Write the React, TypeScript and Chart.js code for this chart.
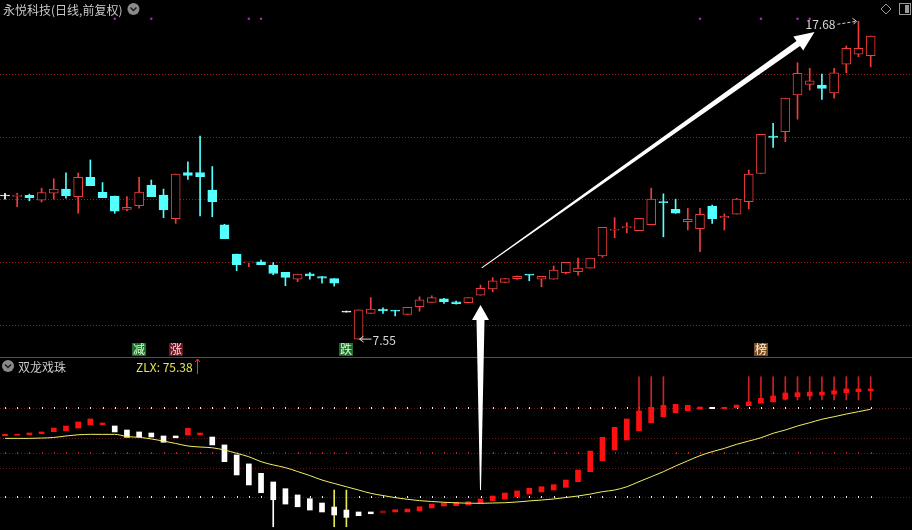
import { useEffect, useRef } from 'react';
import { Chart, registerables } from 'chart.js';

Chart.register(...registerables);

// ---------- price panel (日线, 前复权) ----------
const OPEN = [
  12.11, 12.10, 12.13, 11.98, 12.20, 12.33, 12.09, 12.71, 12.23, 12.11,
  11.68, 11.80, 12.46, 12.14, 11.39, 12.86, 12.86, 12.30, 11.19, 10.26,
  9.98, 10.01, 9.91, 9.68, 9.46, 9.63, 9.54, 9.48, 8.41, 7.55,
  8.37, 8.51, 8.47, 8.34, 8.58, 8.72, 8.83, 8.74, 8.71, 8.95,
  9.15, 9.36, 9.48, 9.60, 9.46, 9.46, 9.67, 9.70, 9.81, 10.20,
  11.02, 11.10, 11.01, 11.20, 11.93, 11.69, 11.29, 11.07, 11.79, 11.42,
  11.53, 11.93, 12.83, 14.02, 14.16, 15.33, 15.67, 15.65, 15.40, 16.31,
  16.63, 16.58,
];
const HIGH = [
  12.20, 12.20, 12.17, 12.36, 12.66, 12.85, 12.84, 13.26, 12.54, 12.11,
  12.09, 12.71, 12.62, 12.33, 12.81, 13.20, 14.02, 13.05, 11.21, 10.26,
  10.00, 10.07, 9.99, 9.68, 9.62, 9.67, 9.54, 9.48, 8.41, 8.48,
  8.87, 8.55, 8.47, 8.56, 8.90, 8.93, 8.85, 8.76, 8.87, 9.27,
  9.51, 9.48, 9.57, 9.60, 9.55, 9.88, 10.00, 10.13, 10.13, 11.11,
  11.42, 11.26, 11.40, 12.36, 12.18, 12.01, 11.72, 11.72, 11.82, 11.54,
  12.04, 12.94, 14.08, 14.43, 15.23, 16.36, 16.18, 16.00, 16.18, 16.89,
  17.68, 17.21,
];
const LOW = [
  12.01, 11.77, 11.96, 11.92, 12.01, 12.04, 11.56, 12.44, 12.06, 11.56,
  11.64, 11.72, 12.09, 11.42, 11.24, 12.64, 11.48, 11.45, 10.75, 9.73,
  9.86, 9.92, 9.60, 9.25, 9.38, 9.46, 9.33, 9.24, 8.41, 7.55,
  8.37, 8.37, 8.29, 8.34, 8.44, 8.72, 8.69, 8.66, 8.71, 8.95,
  9.06, 9.36, 9.45, 9.41, 9.22, 9.46, 9.63, 9.59, 9.81, 10.16,
  10.78, 10.94, 11.01, 11.20, 10.81, 11.56, 11.03, 10.34, 11.24, 11.03,
  11.53, 11.70, 12.83, 13.66, 13.84, 14.56, 15.49, 15.19, 15.23, 16.04,
  16.55, 16.23,
];
const CLOSE = [
  12.11, 12.12, 12.06, 12.22, 12.33, 12.12, 12.71, 12.44, 12.06, 11.63,
  11.75, 12.24, 12.09, 11.67, 12.81, 12.77, 12.73, 11.93, 10.75, 9.92,
  10.00, 9.92, 9.64, 9.52, 9.62, 9.56, 9.49, 9.33, 8.41, 8.48,
  8.51, 8.45, 8.44, 8.56, 8.80, 8.87, 8.74, 8.68, 8.87, 9.17,
  9.41, 9.48, 9.55, 9.59, 9.55, 9.75, 10.00, 9.81, 10.13, 11.11,
  11.05, 11.14, 11.40, 12.01, 11.90, 11.56, 11.37, 11.53, 11.38, 11.46,
  12.01, 12.81, 14.08, 13.98, 15.23, 16.02, 15.78, 15.54, 16.04, 16.82,
  16.82, 17.21,
];
const PRICE_GRID = [8, 10, 12, 14, 16];
const PRICE_MIN = 1.466;
const PRICE_MAX = 18.358;
const PANEL_DIVIDER_PRICE = 6.98;
const MARK_DOT_INDEX = [9, 12, 20, 21, 57, 62, 65, 66];
const MARK_DOT_PRICE = 17.76;
const HIGH_MARK = { index: 70, value: 17.68 };
const LOW_MARK = { index: 29, value: 7.55 };
const BADGES = [
  { index: 11, text: '减', bg: '#1f6e2a', fg: '#d8ffd8' },
  { index: 14, text: '涨', bg: '#6e1522', fg: '#ffd8dc' },
  { index: 28, text: '跌', bg: '#1f6e2a', fg: '#d8ffd8' },
  { index: 62, text: '榜', bg: '#7a4e1e', fg: '#fff0dc' },
];

// ---------- 双龙戏珠 indicator panel ----------
const ZL_TOP = [
  62.3, 62.3, 63.2, 63.9, 66.5, 67.9, 70.6, 72.6, 69.9, 67.9,
  65.2, 63.9, 63.2, 61.2, 61.2, 66.3, 63.2, 60.5, 55.2, 48.5,
  42.5, 36.2, 30.4, 25.9, 21.7, 19.2, 16.3, 13.6, 11.6, 10.3,
  10.3, 11.0, 11.8, 12.3, 13.8, 15.6, 16.3, 16.8, 17.2, 19.0,
  21.0, 23.0, 24.4, 26.2, 27.2, 28.6, 31.7, 38.4, 51.1, 60.3,
  67.0, 72.6, 77.9, 80.4, 81.7, 82.4, 81.7, 80.6, 80.4, 80.4,
  81.9, 84.0, 86.4, 88.0, 90.0, 90.2, 90.6, 90.6, 91.5, 92.7,
  92.7, 92.7,
];
const ZL_BOTTOM = [
  61.4, 61.7, 62.1, 62.7, 64.1, 64.7, 66.5, 68.6, 68.8, 63.9,
  60.3, 60.5, 60.5, 57.0, 60.0, 61.9, 62.1, 55.2, 44.0, 35.1,
  28.4, 23.2, 18.5, 15.6, 13.8, 11.6, 10.3, 8.3, 6.7, 7.8,
  9.1, 9.6, 10.3, 10.3, 11.0, 13.0, 14.3, 14.5, 15.0, 16.1,
  17.9, 19.0, 20.5, 22.3, 23.7, 25.0, 26.8, 30.6, 37.3, 44.6,
  51.8, 58.5, 64.7, 70.1, 74.1, 76.8, 78.1, 79.1, 79.5, 79.5,
  80.1, 81.5, 83.1, 84.0, 85.8, 87.5, 88.0, 88.6, 89.3, 90.2,
  90.9, 91.5,
];
// r = 红, w = 白, d = 暗红
const ZL_KIND =
  'rrrrrrrrrwwwwwwrrwwwwwwwwwwwwwwdrrrrrrrrrrrrrrrrrrrrrrrrrrwrrrrrrrrrrrr';
const ZLX = [
  59.6, 59.6, 59.6, 59.8, 60.2, 61.2, 62.0, 62.3, 62.3, 62.3,
  60.8, 60.3, 59.2, 57.8, 56.2, 54.5, 53.8, 53.3, 51.8, 49.6,
  47.3, 44.0, 41.8, 40.0, 37.4, 34.7, 31.7, 29.4, 27.2, 25.0,
  22.8, 21.3, 19.9, 18.8, 17.9, 17.3, 16.8, 16.4, 16.2, 16.1,
  16.3, 16.5, 17.0, 17.7, 18.3, 19.0, 20.0, 21.0, 22.3, 23.9,
  25.0, 27.2, 30.6, 33.9, 37.3, 41.1, 44.6, 48.0, 50.7, 52.9,
  55.6, 57.8, 60.0, 63.0, 65.2, 67.9, 70.1, 72.4, 74.1, 75.9,
  77.5, 79.1,
];
const SIGNAL_INDEX = [52, 53, 54, 61, 62, 63, 64, 65, 66, 67, 68, 69, 70, 71];
const SIGNAL_BOTTOM = [77.9, 80.4, 81.7, 84.0, 85.3, 85.3, 85.3, 85.3, 85.3, 85.3, 85.3, 85.3, 85.3, 85.3];
const SIGNAL_TOP = 100.9;
const YELLOW_STICK_INDEX = [27, 28];
const YELLOW_STICK = [0.4, 25.0];
const WHITE_STICK = { index: 22, range: [0.4, 18.5] };
const LOWER_GRID_DOTTED = [80, 20];
const LOWER_GRID_RED = [50];
const LOWER_GRID_PLAIN = [60, 40];
const LOWER_MIN = -1.77;
const LOWER_MAX = 353.2;
const ZLX_VALUE = '75.38';

const X_MIN = -0.41;
const X_MAX = 74.39;

const UP = '#f23c3c';
const DOWN = '#54ffff';
const FLAT = '#ffffff';
const FONT = '"Noto Sans CJK SC", "Noto Sans", sans-serif';

const idx = OPEN.map((_, i) => i);
const candleColor = (i: number) =>
  CLOSE[i] > OPEN[i] ? UP : CLOSE[i] < OPEN[i] ? DOWN : FLAT;

function fatArrow(
  ctx: CanvasRenderingContext2D,
  x0: number, y0: number, x1: number, y1: number,
  tailW: number, shaftW: number, headW: number, headL: number,
) {
  const dx = x1 - x0, dy = y1 - y0;
  const len = Math.hypot(dx, dy);
  const ux = dx / len, uy = dy / len;
  const nx = -uy, ny = ux;
  const bx = x1 - ux * headL, by = y1 - uy * headL;
  ctx.beginPath();
  ctx.moveTo(x0 + nx * tailW / 2, y0 + ny * tailW / 2);
  ctx.lineTo(bx + nx * shaftW / 2, by + ny * shaftW / 2);
  ctx.lineTo(bx + nx * headW / 2, by + ny * headW / 2);
  ctx.lineTo(x1, y1);
  ctx.lineTo(bx - nx * headW / 2, by - ny * headW / 2);
  ctx.lineTo(bx - nx * shaftW / 2, by - ny * shaftW / 2);
  ctx.lineTo(x0 - nx * tailW / 2, y0 - ny * tailW / 2);
  ctx.closePath();
  ctx.fill();
}

function chevronCircle(ctx: CanvasRenderingContext2D, cx: number, cy: number, r: number) {
  ctx.fillStyle = '#8a8a8a';
  ctx.beginPath();
  ctx.arc(cx, cy, r, 0, Math.PI * 2);
  ctx.fill();
  ctx.strokeStyle = '#1a1a1a';
  ctx.lineWidth = 1.5;
  ctx.beginPath();
  ctx.moveTo(cx - 3, cy - 1.5);
  ctx.lineTo(cx, cy + 1.5);
  ctx.lineTo(cx + 3, cy - 1.5);
  ctx.stroke();
}

const backgroundPlugin = {
  id: 'bgGrid',
  beforeDraw(chart: any) {
    const { ctx, width, height } = chart;
    ctx.save();
    ctx.fillStyle = '#000';
    ctx.fillRect(0, 0, width, height);
    ctx.restore();
  },
  beforeDatasetsDraw(chart: any) {
    const { ctx, chartArea } = chart;
    const x = chart.scales.x;
    const y = chart.scales.y;
    const y2 = chart.scales.y2;
    ctx.save();
    // upper dotted grid
    ctx.strokeStyle = 'rgba(160,32,32,0.95)';
    ctx.lineWidth = 1;
    ctx.setLineDash([1, 2]);
    for (const p of PRICE_GRID) {
      const py = Math.round(y.getPixelForValue(p)) + 0.5;
      ctx.beginPath();
      ctx.moveTo(chartArea.left, py);
      ctx.lineTo(chartArea.right, py);
      ctx.stroke();
    }
    // lower dotted grid
    ctx.strokeStyle = 'rgba(120,25,25,0.9)';
    for (const v of [...LOWER_GRID_DOTTED, ...LOWER_GRID_RED, ...LOWER_GRID_PLAIN]) {
      const py = Math.round(y2.getPixelForValue(v)) + 0.5;
      ctx.beginPath();
      ctx.moveTo(chartArea.left, py);
      ctx.lineTo(chartArea.right, py);
      ctx.stroke();
    }
    ctx.setLineDash([]);
    for (const v of LOWER_GRID_DOTTED) {
      const py = Math.round(y2.getPixelForValue(v));
      ctx.fillStyle = '#e8e8e8';
      for (const i of idx) ctx.fillRect(Math.round(x.getPixelForValue(i)), py - 1, 1, 2);
    }
    for (const v of LOWER_GRID_RED) {
      const py = Math.round(y2.getPixelForValue(v));
      ctx.fillStyle = '#c02020';
      for (const i of idx) ctx.fillRect(Math.round(x.getPixelForValue(i)), py - 1, 1, 2);
    }
    // panel divider
    const dy = Math.round(y.getPixelForValue(PANEL_DIVIDER_PRICE)) + 0.5;
    ctx.strokeStyle = '#c02222';
    ctx.beginPath();
    ctx.moveTo(chartArea.left, dy);
    ctx.lineTo(chartArea.right, dy);
    ctx.stroke();
    ctx.restore();
  },
  afterDatasetsDraw(chart: any) {
    const { ctx } = chart;
    const x = chart.scales.x;
    const y = chart.scales.y;
    const y2 = chart.scales.y2;
    ctx.save();
    // title
    ctx.font = `12px ${FONT}`;
    ctx.textBaseline = 'middle';
    ctx.fillStyle = '#c8c8c8';
    ctx.textAlign = 'left';
    ctx.fillText('永悦科技(日线,前复权)', 3, 10);
    const tw = ctx.measureText('永悦科技(日线,前复权)').width;
    chevronCircle(ctx, 3 + tw + 11, 9, 6);
    // top right icons
    ctx.strokeStyle = '#9a9a9a';
    ctx.lineWidth = 1;
    ctx.beginPath();
    ctx.moveTo(886, 4); ctx.lineTo(891, 9); ctx.lineTo(886, 14); ctx.lineTo(881, 9); ctx.closePath();
    ctx.stroke();
    ctx.strokeRect(899.5, 3.5, 11, 11);
    ctx.fillStyle = '#9a9a9a';
    ctx.fillRect(905, 5, 4, 8);

    // high / low labels
    ctx.font = `12px ${FONT}`;
    ctx.fillStyle = '#d8d8d8';
    const hx = x.getPixelForValue(HIGH_MARK.index);
    const hy = y.getPixelForValue(HIGH_MARK.value);
    ctx.textAlign = 'right';
    ctx.fillText(HIGH_MARK.value.toFixed(2), hx - 23, hy + 3);
    ctx.strokeStyle = '#d8d8d8';
    ctx.setLineDash([3, 2]);
    ctx.beginPath();
    ctx.moveTo(hx - 21, hy + 3); ctx.lineTo(hx - 2, hy);
    ctx.stroke();
    ctx.setLineDash([]);
    ctx.beginPath();
    ctx.moveTo(hx - 6, hy - 3); ctx.lineTo(hx - 2, hy); ctx.lineTo(hx - 5, hy + 3);
    ctx.stroke();

    const lx = x.getPixelForValue(LOW_MARK.index);
    const ly = y.getPixelForValue(LOW_MARK.value);
    ctx.beginPath();
    ctx.moveTo(lx + 1, ly); ctx.lineTo(lx + 13, ly);
    ctx.moveTo(lx + 5, ly - 3); ctx.lineTo(lx + 1, ly); ctx.lineTo(lx + 5, ly + 3);
    ctx.stroke();
    ctx.textAlign = 'left';
    ctx.fillText(LOW_MARK.value.toFixed(2), lx + 14, ly + 1);

    // badges
    const divY = y.getPixelForValue(PANEL_DIVIDER_PRICE);
    ctx.font = `12px ${FONT}`;
    ctx.textAlign = 'center';
    for (const b of BADGES) {
      const bx = Math.round(x.getPixelForValue(b.index));
      ctx.fillStyle = b.bg;
      ctx.fillRect(bx - 7, divY - 14, 14, 13);
      ctx.fillStyle = b.fg;
      ctx.fillText(b.text, bx, divY - 7.5);
    }

    // lower panel title
    chevronCircle(ctx, 8, 366, 6);
    ctx.font = `12px ${FONT}`;
    ctx.textAlign = 'left';
    ctx.fillStyle = '#c8c8c8';
    ctx.fillText('双龙戏珠', 18, 367);
    ctx.fillStyle = '#e6e650';
    const zt = `ZLX: ${ZLX_VALUE}`;
    ctx.fillText(zt, 136, 367);
    const zw = ctx.measureText(zt).width;
    ctx.strokeStyle = '#ff3030';
    ctx.lineWidth = 1;
    const ax = Math.round(136 + zw + 4) + 0.5;
    ctx.beginPath();
    ctx.moveTo(ax, 359); ctx.lineTo(ax, 374);
    ctx.moveTo(ax - 2.5, 362); ctx.lineTo(ax, 359); ctx.lineTo(ax + 2.5, 362);
    ctx.stroke();

    // big white arrows
    ctx.fillStyle = '#ffffff';
    const ux = x.getPixelForValue(39);
    fatArrow(ctx, ux, y2.getPixelForValue(25.0), ux, y.getPixelForValue(8.64), 1, 8, 17, 15);
    fatArrow(
      ctx,
      x.getPixelForValue(39.1), y.getPixelForValue(9.82),
      x.getPixelForValue(66.4), y.getPixelForValue(17.34),
      1, 6, 17, 20,
    );
    ctx.restore();
  },
};

export default function App() {
  const ref = useRef<HTMLCanvasElement | null>(null);
  useEffect(() => {
    const canvas = ref.current;
    if (!canvas) return;
    const wick = idx.map((i) => ({ x: i, y: [LOW[i], HIGH[i]] }));
    const body = idx.map((i) => ({ x: i, y: [OPEN[i], CLOSE[i]] }));
    const zl = idx.map((i) => ({ x: i, y: [ZL_BOTTOM[i], ZL_TOP[i]] }));
    const zlColor = idx.map((i) =>
      ZL_KIND[i] === 'w' ? '#ffffff' : ZL_KIND[i] === 'd' ? '#8c1010' : '#ff1010');
    const signal = SIGNAL_INDEX.map((i, k) => ({ x: i, y: [SIGNAL_BOTTOM[k], SIGNAL_TOP] }));
    const sticks = YELLOW_STICK_INDEX.map((i) => ({ x: i, y: YELLOW_STICK }));
    const chart = new Chart(canvas, {
      type: 'bar',
      data: {
        datasets: [
          {
            type: 'bar', data: wick as any, xAxisID: 'x', yAxisID: 'y',
            backgroundColor: idx.map(candleColor), barThickness: 1, grouped: false,
            minBarLength: 1, order: 6,
          },
          {
            type: 'bar', data: body as any, xAxisID: 'x', yAxisID: 'y',
            backgroundColor: idx.map((i) => (CLOSE[i] > OPEN[i] ? '#000000' : candleColor(i))),
            borderColor: idx.map(candleColor), borderWidth: 1, borderSkipped: false,
            barThickness: 9, grouped: false, minBarLength: 1, order: 5,
          },
          {
            type: 'bar', data: signal as any, xAxisID: 'x', yAxisID: 'y2',
            backgroundColor: '#d02020', barThickness: 1, grouped: false, order: 7,
          },
          {
            type: 'bar', data: sticks as any, xAxisID: 'x', yAxisID: 'y2',
            backgroundColor: '#e6e650', barThickness: 1, grouped: false, order: 7,
          },
          {
            type: 'bar', data: [{ x: WHITE_STICK.index, y: WHITE_STICK.range }] as any,
            xAxisID: 'x', yAxisID: 'y2',
            backgroundColor: '#ffffff', barThickness: 1, grouped: false, order: 7,
          },
          {
            type: 'bar', data: zl as any, xAxisID: 'x', yAxisID: 'y2',
            backgroundColor: zlColor, barThickness: 5, grouped: false,
            minBarLength: 1, order: 4,
          },
          {
            type: 'line', data: idx.map((i) => ({ x: i, y: ZLX[i] })) as any,
            xAxisID: 'x', yAxisID: 'y2', borderColor: '#f0f064', borderWidth: 1,
            pointRadius: 0, tension: 0.3, cubicInterpolationMode: 'monotone', order: 1,
          },
          {
            type: 'line', data: MARK_DOT_INDEX.map((i) => ({ x: i, y: MARK_DOT_PRICE })) as any,
            xAxisID: 'x', yAxisID: 'y', showLine: false, pointRadius: 1.3,
            pointBackgroundColor: '#a030a0', pointBorderWidth: 0, order: 1,
          },
        ] as any,
      },
      options: {
        responsive: false,
        animation: false,
        devicePixelRatio: 1,
        layout: { padding: 0, autoPadding: false },
        events: [],
        plugins: { legend: { display: false }, tooltip: { enabled: false } },
        scales: {
          x: { type: 'linear', min: X_MIN, max: X_MAX, display: false, offset: false },
          y: { type: 'linear', min: PRICE_MIN, max: PRICE_MAX, display: false },
          y2: { type: 'linear', min: LOWER_MIN, max: LOWER_MAX, display: false },
        },
      } as any,
      plugins: [backgroundPlugin],
    });
    return () => chart.destroy();
  }, []);
  return (
    <div style={{ position: 'fixed', left: 0, top: 0, width: 912, height: 530, background: '#000' }}>
      <canvas ref={ref} width={912} height={530} style={{ display: 'block' }} />
    </div>
  );
}
